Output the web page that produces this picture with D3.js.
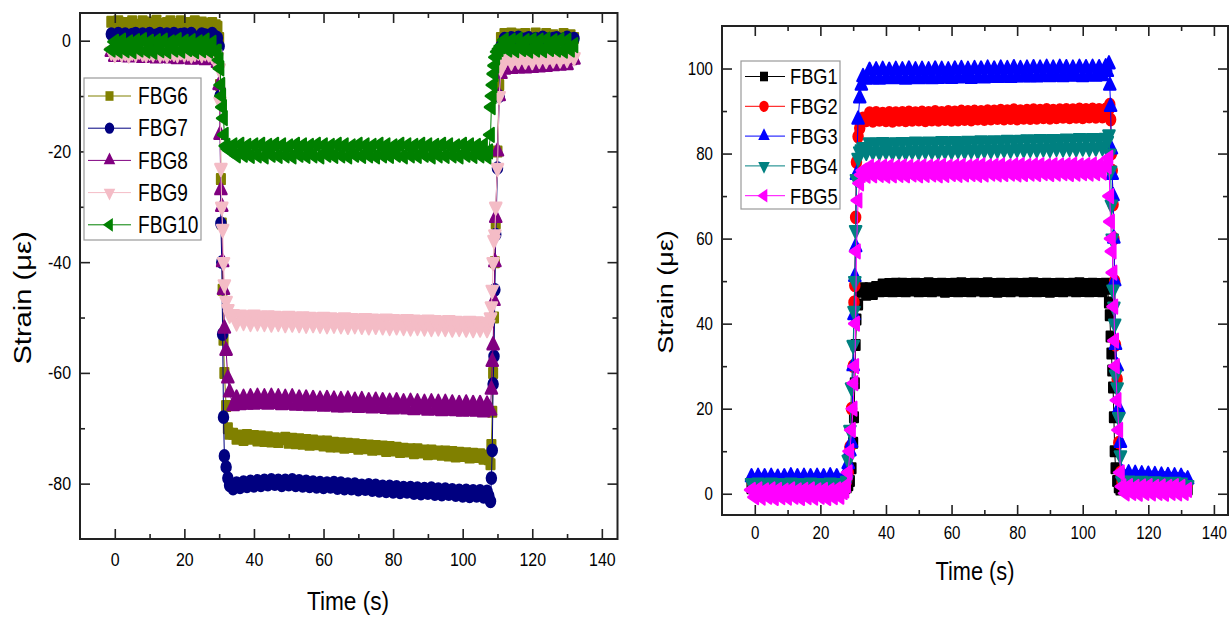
<!DOCTYPE html>
<html lang="en">
<head>
<meta charset="utf-8">
<title>FBG strain</title>
<script src="https://cdn.jsdelivr.net/npm/d3@7/dist/d3.min.js"></script>
<style>
  body { margin: 0; background: #fff; }
  svg text { font-family: "Liberation Sans", Arial, sans-serif; fill: #000; }
</style>
</head>
<body>
<svg id="chart" width="1229" height="619"></svg>
<script>

// ---- left panel: FBG6..FBG10 (compression) ----
const timeL = [
  -1,0,1,2,3,4,5,6,7,8,9,10,11,12,13,14,15,16,17,18,19,20,21,22,23,24,25,26,27,28,29,
  29.5,30,30.25,30.5,30.75,31,31.25,31.5,32,32.5,33,
  34,35,36,37,38,39,40,41,42,43,44,45,46,47,48,49,50,51,52,53,54,55,56,57,58,59,60,61,62,63,
  64,65,66,67,68,69,70,71,72,73,74,75,76,77,78,79,80,81,82,83,84,85,86,87,88,89,90,91,92,93,
  94,95,96,97,98,99,100,101,102,103,104,105,106,107,
  107.5,108,108.25,108.5,108.75,109,109.25,109.5,110,110.5,111,
  112,113,114,115,116,117,118,119,120,121,122,123,124,125,126,127,128,129,130,131,132
];

const fbg6 = [
  3.4,2.6,3.5,2.8,3.2,2.5,3.5,2.9,2.6,3.5,2.8,3.3,2.5,3.6,3.0,2.6,3.2,3.5,2.7,3.0,3.5,2.5,3.2,2.8,3.5,2.6,3.3,3.0,2.6,3.2,2.8,
  2.5,0.5,-8,-25,-33,-45,-54,-60,-66,-70,-71,
  -71.0,-71.9,-71.3,-72.1,-71.2,-71.9,-71.4,-72.2,-71.5,-72.3,
  -71.6,-72.4,-71.8,-72.5,-72.0,-71.7,-72.6,-71.9,-72.7,-72.0,
  -72.8,-72.1,-73.0,-72.2,-72.9,-72.4,-73.1,-72.4,-73.3,-72.6,
  -73.3,-72.7,-73.5,-72.8,-73.4,-72.9,-73.7,-73.0,-73.6,-73.1,
  -73.9,-73.2,-73.8,-73.3,-74.1,-73.4,-74.0,-73.5,-74.3,-73.7,
  -74.2,-73.8,-74.5,-73.8,-74.4,-74.0,-74.7,-74.0,-74.6,-74.2,
  -74.8,-74.2,-74.9,-74.3,-75.1,-74.4,-75.0,-74.5,-75.3,-74.6,
  -75.2,-74.7,-75.5,-74.9,
  -75.6,-76.5,-73,-67,-60,-50,-40,-33,-20,-8,0.5,
  1.2,0.3,1.3,0.5,1.1,0.4,1.2,0.6,0.3,1.3,0.6,0.4,1.2,0.5,1.0,0.7,0.3,1.2,0.6,1.0,0.5
];

const fbg7 = [
  1.2,0.5,1.3,0.6,1.2,0.4,1.1,1.3,0.5,1.2,0.6,1.3,0.4,1.0,1.3,0.5,1.2,0.6,1.3,0.4,1.1,1.2,0.5,1.3,0.6,0.4,1.2,1.0,0.5,1.3,0.7,
  0.5,-1,-10,-33,-40,-53,-68,-75,-77,-79,-80.3,
  -80.9,-79.9,-80.7,-79.7,-80.5,-79.6,-80.4,-79.5,-80.3,-79.4,
  -80.2,-79.3,-80.1,-79.4,-80.3,-79.4,-80.2,-79.3,-80.3,-79.5,
  -80.4,-79.6,-80.5,-79.7,-80.6,-79.8,-80.7,-79.9,-80.6,-79.8,
  -80.8,-79.9,-80.9,-80.1,-80.9,-80.1,-81.1,-80.3,-81.0,-80.2,
  -81.2,-80.3,-81.3,-80.5,-81.4,-80.5,-81.5,-80.6,-81.6,-80.7,
  -81.5,-80.7,-81.7,-80.8,-81.8,-80.9,-81.7,-80.8,-81.9,-81.0,
  -82.0,-81.0,-81.9,-81.1,-82.1,-81.2,-82.2,-81.2,-82.3,-81.3,
  -82.2,-81.3,-82.4,-81.4,
  -82.2,-83.2,-79,-74,-62,-57,-45,-35,-23,-10,-1,
  0.4,0.1,0.5,0.2,0.6,0.0,0.3,0.5,0.1,0.4,0.2,0.6,0.3,0.0,0.4,0.5,0.2,0.3,0.6,0.1,0.4
];

const fbg8 = [
  -2.0,-2.9,-2.0,-2.8,-2.2,-3.0,-2.1,-2.9,-2.3,-3.1,-2.2,-3.0,-2.3,-3.2,-2.4,-3.1,-2.3,-3.2,-2.5,-3.3,
  -2.4,-3.2,-2.6,-3.4,-2.5,-3.3,-2.7,-3.5,-2.6,-3.4,-2.9,
  -4,-8,-17,-27,-30,-40,-45,-52,-56,-61,-63.5,
  -66.0,-64.6,-65.8,-64.5,-65.7,-64.4,-65.7,-64.3,-65.6,-64.4,
  -65.7,-64.3,-65.6,-64.4,-65.8,-64.5,-65.7,-64.4,-65.9,-64.6,
  -65.9,-64.6,-66.0,-64.7,-65.9,-64.8,-66.1,-64.7,-66.0,-64.8,
  -66.2,-64.9,-66.2,-64.8,-66.1,-65.0,-66.3,-64.9,-66.2,-65.1,
  -66.4,-65.0,-66.3,-65.1,-66.5,-65.2,-66.6,-65.1,-66.4,-65.3,
  -66.6,-65.2,-66.7,-65.3,-66.5,-65.4,-66.8,-65.3,-66.7,-65.4,
  -66.9,-65.4,-66.8,-65.5,-66.9,-65.6,-67.0,-65.5,-66.9,-65.6,
  -67.0,-65.6,-67.1,-65.7,
  -66.4,-66.8,-63,-58,-55,-47,-40,-32,-20,-10,-6,
  -5.2,-4.3,-5.1,-4.2,-5.0,-4.1,-5.0,-4.0,-4.9,-4.1,-4.8,-3.9,-4.7,-3.8,-4.6,-3.7,-4.5,-3.6,-4.4,-3.5,-3.4
];

const fbg9 = [
  -2.0,-2.4,-1.9,-2.3,-2.1,-2.5,-2.0,-2.3,-1.8,-2.2,-2.4,-2.0,-2.3,-1.9,-2.4,-2.1,-2.5,-2.0,-2.2,-2.4,
  -1.9,-2.3,-2.1,-2.5,-2.2,-2.0,-2.4,-2.1,-2.3,-2.6,-2.5,
  -3,-5,-11,-23,-30,-34,-40,-44,-47,-48.5,-49.5,
  -49.4,-50.9,-49.5,-50.8,-49.6,-51.0,-49.5,-50.9,-49.7,-51.0,
  -49.6,-51.1,-49.7,-51.0,-49.8,-51.2,-49.7,-51.1,-49.9,-51.2,
  -49.8,-51.3,-49.9,-51.2,-50.0,-51.3,-49.9,-51.4,-50.0,-51.3,
  -50.1,-51.4,-50.0,-51.5,-50.1,-51.4,-50.2,-51.5,-50.1,-51.6,
  -50.2,-51.5,-50.3,-51.6,-50.2,-51.7,-50.3,-51.6,-50.4,-51.7,
  -50.3,-51.8,-50.4,-51.7,-50.5,-51.8,-50.4,-51.9,-50.5,-51.8,
  -50.6,-51.9,-50.5,-52.0,-50.6,-51.9,-50.7,-52.0,-50.6,-52.1,
  -50.7,-52.0,-50.8,-52.1,
  -51.3,-50,-48,-45,-40,-36,-35,-30,-23,-10,-5,
  -3.7,-2.8,-3.8,-2.9,-3.6,-2.7,-3.6,-2.8,-3.7,-2.6,-3.5,-2.6,-3.5,-2.7,-3.4,-2.5,-3.4,-2.6,-3.3,-2.4,-3.0
];

const fbg10 = [
  -1.6,-0.2,-1.8,0.0,-1.7,-0.3,-1.9,-0.1,-1.6,0.1,-1.8,-0.2,-2.0,-0.1,-1.7,0.0,-1.9,-0.3,-1.6,0.1,
  -1.8,-0.2,-1.5,-0.1,-1.9,-0.3,-1.7,0.0,-1.8,-0.4,-2.0,
  -2,-3.5,-5,-8,-10,-12,-14,-17,-19,-19.5,-19.8,
  -18.9,-20.7,-18.8,-20.6,-19.0,-20.8,-18.9,-20.7,-18.8,-20.9,
  -19.0,-20.6,-18.8,-20.8,-18.9,-20.7,-19.1,-20.9,-18.8,-20.6,
  -18.9,-20.8,-19.0,-20.7,-18.8,-20.9,-18.9,-20.6,-19.0,-20.8,
  -18.8,-20.7,-18.9,-20.9,-19.1,-20.6,-18.8,-20.8,-18.9,-20.7,
  -19.0,-20.9,-18.8,-20.7,-18.9,-20.8,-19.1,-20.6,-18.8,-20.9,
  -18.9,-20.7,-19.0,-20.8,-18.8,-20.6,-18.9,-20.9,-19.0,-20.7,
  -18.8,-20.8,-18.9,-20.7,-19.1,-20.9,-18.8,-20.6,-18.9,-20.8,
  -19.0,-20.7,-18.9,-20.9,
  -20,-17,-12,-10,-8,-6,-4.5,-3,-2,-1.5,-1,
  0.1,-1.6,0.0,-1.7,0.2,-1.5,-0.1,-1.8,0.1,-1.6,0.0,-1.7,0.2,-1.5,-0.1,-1.6,0.1,-1.8,0.0,-1.6,-0.8
];

// ---- right panel: FBG1..FBG5 (tension) ----
const timeR = [
  -1,0,1,2,3,4,5,6,7,8,9,10,11,12,13,14,15,16,17,18,19,20,21,22,23,24,25,26,27,
  27.5,28,28.5,29,29.5,30,30.25,30.5,30.75,31,31.5,32,32.5,33,
  34,35,36,37,38,39,40,41,42,43,44,45,46,47,48,49,50,51,52,53,54,55,56,57,58,59,60,61,62,63,
  64,65,66,67,68,69,70,71,72,73,74,75,76,77,78,79,80,81,82,83,84,85,86,87,88,89,90,91,92,93,
  94,95,96,97,98,99,100,101,102,103,104,105,106,107,
  107.5,108,108.25,108.5,108.75,109,109.25,109.5,109.75,110,110.5,111,111.5,
  112,113,114,115,116,117,118,119,120,121,122,123,124,125,126,127,128,129,130,131,132
];

const fbg1 = [
  1.3,1.0,1.5,1.1,1.4,0.9,1.3,1.2,1.6,1.0,1.4,1.1,1.5,0.9,1.3,1.2,1.0,1.4,1.1,1.5,1.2,0.9,1.3,1.1,1.4,1.0,1.3,1.2,1.5,
  1.3,1.5,2,3,6,12,18,26,35,41,44.5,47.5,48,48.3,
  46.8,48.3,47.0,48.6,47.6,49.2,47.7,49.3,47.6,49.4,
  47.7,49.4,47.6,49.3,47.8,49.4,47.6,49.3,47.7,49.5,
  47.6,49.3,47.8,49.4,47.5,49.3,47.7,49.4,47.6,49.5,
  47.7,49.3,47.6,49.4,47.8,49.3,47.6,49.5,47.7,49.3,
  47.5,49.4,47.7,49.3,47.6,49.4,47.8,49.3,47.6,49.4,
  47.7,49.5,47.6,49.3,47.7,49.4,47.5,49.3,47.7,49.4,
  47.6,49.3,47.8,49.4,47.6,49.5,47.7,49.3,47.6,49.4,
  47.7,49.3,47.6,49.4,
  48.2,45,42,37,33,29,25,18,10,6,3,1.5,1,
  1.2,0.9,1.4,1.0,1.3,0.8,1.2,1.1,0.9,1.3,1.0,1.2,0.8,1.1,1.3,0.9,1.2,1.0,1.1,0.8,1.0
];

const fbg2 = [
  3.1,1.9,3.2,1.8,3.0,2.0,3.2,1.9,3.1,1.8,3.0,2.0,3.2,1.9,3.1,1.8,3.0,2.1,3.2,1.9,3.0,1.8,3.1,2.0,3.2,1.9,3.0,2.1,2.8,
  2.6,3,5,11,20,30,45,49,65,78,84,86,87.5,88.3,
  87.8,89.5,87.7,89.6,87.9,89.4,87.8,89.6,87.7,89.5,
  87.9,89.6,87.8,89.7,87.9,89.5,88.0,89.7,87.8,89.6,
  88.0,89.8,87.9,89.6,88.1,89.8,87.9,89.7,88.0,89.9,
  88.1,89.8,88.0,89.9,88.2,89.8,88.1,90.0,88.2,89.9,
  88.3,90.1,88.2,90.0,88.3,90.2,88.2,90.0,88.4,90.1,
  88.3,90.2,88.4,90.1,88.5,90.3,88.4,90.1,88.5,90.2,
  88.6,90.3,88.5,90.2,88.6,90.4,88.5,90.3,88.7,90.4,
  88.6,90.3,88.7,90.4,
  89.6,90.5,91.5,88,80,76,68,60,50,35,27,12,5,
  2.7,2.4,2.8,2.5,2.9,2.3,2.6,2.7,2.4,2.8,2.3,2.6,2.5,2.7,2.2,2.5,2.6,2.3,2.5,2.2,2.4
];

const fbg3 = [
  3.9,2.7,4.0,2.8,3.9,2.6,4.0,2.8,3.8,2.7,3.9,2.8,4.1,2.7,3.9,2.8,4.0,2.6,3.9,2.7,4.0,2.8,3.9,2.7,4.1,2.8,3.9,2.7,3.6,
  3.5,5,7,10,12,30,42,51,58,75,88,93,96,98,
  97.4,99.5,97.5,99.6,97.4,99.7,97.6,99.5,97.5,99.7,
  97.6,99.6,97.4,99.8,97.6,99.6,97.5,99.7,97.7,99.6,
  97.5,99.8,97.6,99.7,97.8,99.6,97.6,99.8,97.7,99.9,
  97.8,99.7,97.6,99.9,97.8,99.8,97.7,100.0,97.9,99.8,
  97.8,100.0,97.9,99.9,97.8,100.1,98.0,99.9,97.9,100.0,
  98.0,100.1,97.9,100.0,98.1,100.2,98.0,100.0,98.1,100.2,
  98.0,100.1,98.2,100.0,98.1,100.2,98.0,100.1,98.2,100.2,
  98.1,100.1,98.2,100.3,
  99.2,101,96,91,81,75,70,60,50,35,30,20,12,
  4.8,3.6,4.8,3.5,4.7,3.4,4.6,3.4,4.5,3.3,4.4,3.2,4.3,3.2,4.2,3.0,4.1,3.0,4.0,2.9,3.4
];

const fbg4 = [
  2.5,1.2,2.6,1.1,2.4,1.3,2.6,1.2,2.5,1.1,2.4,1.3,2.6,1.2,2.5,1.1,2.4,1.2,2.6,1.3,2.5,1.1,2.4,1.2,2.6,1.3,2.5,1.2,2.0,
  2,3,8,15,25,35,43,50,62,74,79,80.5,81,81.5,
  80.4,82.6,80.5,82.5,80.4,82.7,80.6,82.5,80.4,82.6,
  80.5,82.7,80.4,82.6,80.6,82.8,80.5,82.6,80.7,82.8,
  80.6,82.7,80.5,82.9,80.7,82.8,80.6,82.9,80.8,82.7,
  80.7,83.0,80.8,82.9,80.7,83.1,80.9,82.9,80.8,83.1,
  80.9,83.0,81.0,83.2,80.9,83.1,81.1,83.2,81.0,83.3,
  81.1,83.2,81.0,83.4,81.2,83.3,81.1,83.4,81.3,83.3,
  81.2,83.5,81.3,83.4,81.2,83.6,81.4,83.5,81.3,83.6,
  81.4,83.5,81.5,83.7,
  83,84.5,80,76,68,60,48,44,40,28,25,18,9,
  3.0,1.8,3.1,1.7,2.9,1.6,3.0,1.8,2.8,1.7,2.9,1.5,2.8,1.6,2.7,1.5,2.8,1.6,2.6,1.5,2.0
];

const fbg5 = [
  0.9,-0.8,1.0,-0.9,0.8,-0.7,1.0,-1.0,0.9,-0.8,0.7,-0.9,1.0,-0.7,0.8,-1.0,0.9,-0.8,1.0,-0.9,0.8,-0.7,0.9,-1.0,0.8,-0.8,1.0,-0.7,0.4,
  0.8,2,5,10,15,20,26,30,40,57,69,73,75,76,
  74.8,76.9,74.9,76.8,75.0,76.9,74.8,77.0,74.9,76.8,
  75.0,77.0,74.9,76.9,75.1,76.8,74.9,77.0,75.0,76.9,
  75.1,77.0,74.9,77.1,75.0,76.9,75.2,77.0,75.0,77.1,
  75.1,76.9,75.2,77.1,75.0,77.2,75.1,77.0,75.3,77.1,
  75.1,77.2,75.2,77.0,75.3,77.2,75.1,77.3,75.2,77.1,
  75.3,77.2,75.2,77.3,75.4,77.1,75.2,77.3,75.3,77.2,
  75.4,77.3,75.2,77.4,75.3,77.2,75.4,77.3,75.3,77.4,
  75.4,77.3,75.5,77.4,
  77,79,70,64,60,57,52,44,36,30,22,15,5,
  1.7,0.1,1.8,0.2,1.6,0.0,1.7,0.2,1.8,0.1,1.6,0.2,1.7,0.0,1.6,0.2,1.8,0.1,1.6,0.2,0.9
];

const namesL = ["FBG6", "FBG7", "FBG8", "FBG9", "FBG10"];
const namesR = ["FBG1", "FBG2", "FBG3", "FBG4", "FBG5"];
const colorsL = ["#808000", "#000080", "#800080", "#f4bcc6", "#008000"];
const colorsR = ["#000000", "#ff0000", "#0000ff", "#008080", "#ff00ff"];
const markers = ["square", "circle", "up", "down", "left"];

const xMajor = [0, 20, 40, 60, 80, 100, 120, 140];
const xMinor = [10, 30, 50, 70, 90, 110, 130];
const yMajorL = [0, -20, -40, -60, -80];
const yMinorL = [-10, -30, -50, -70];
const yMajorR = [0, 20, 40, 60, 80, 100];
const yMinorR = [10, 30, 50, 70, 90];

const svg = d3.select("#chart");
const squeeze = 0.84; // the source picture is narrower than tall

function markerPath(type) {
  if (type === "square") return d3.symbol(d3.symbolSquare, 92)();
  if (type === "circle") return d3.symbol(d3.symbolCircle, 100)();
  return d3.symbol(d3.symbolTriangle, 82)();
}
function markerRot(type) {
  return type === "down" ? 180 : type === "left" ? -90 : 0;
}

function drawPanel(p) {
  const w = p.right - p.left, h = p.bottom - p.top;
  const g = svg.append("g").attr("transform", `translate(${p.left},${p.top})`);
  const x = d3.scaleLinear().domain(p.xDomain).range([0, w]);
  const y = d3.scaleLinear().domain(p.yDomain).range([h, 0]);

  // series: thin joining line, then the markers (edged so the dense run reads as a band)
  p.series.forEach((vals, i) => {
    const n = Math.min(p.time.length, vals.length);
    const pts = d3.range(n).map(k => [p.time[k], vals[k]]);
    const col = p.colors[i];
    g.append("path")
      .attr("d", d3.line().x(d => x(d[0])).y(d => y(d[1]))(pts))
      .attr("fill", "none")
      .attr("stroke", col)
      .attr("stroke-width", 1);
    g.append("g").selectAll("path")
      .data(pts)
      .join("path")
      .attr("d", markerPath(markers[i]))
      .attr("transform", d => `translate(${x(d[0])},${y(d[1])}) scale(${squeeze},1) rotate(${markerRot(markers[i])})`)
      .attr("fill", col)
      .attr("stroke", col)
      .attr("stroke-width", 2.4)
      .attr("stroke-linejoin", "round");
  });

  // axes, ticks pointing inwards on all four sides
  const tickStyle = sel => {
    sel.select(".domain").remove();
    sel.selectAll("line").attr("stroke", "#222").attr("stroke-width", 1.6);
    sel.attr("font-size", p.tickFont).attr("font-family", null);
  };
  const fmt = d => String(d);

  g.append("g").attr("transform", `translate(0,${h})`)
    .call(d3.axisBottom(x).tickValues(xMajor).tickSize(-10).tickPadding(p.xPad).tickFormat(fmt))
    .call(tickStyle)
    .selectAll("text").attr("transform", `scale(${squeeze},1)`);
  g.append("g").attr("transform", `translate(0,${h})`)
    .call(d3.axisBottom(x).tickValues(xMinor).tickSize(-5).tickFormat(""))
    .call(tickStyle);
  g.append("g")
    .call(d3.axisTop(x).tickValues(xMajor).tickSize(-10).tickFormat(""))
    .call(tickStyle);
  g.append("g")
    .call(d3.axisTop(x).tickValues(xMinor).tickSize(-5).tickFormat(""))
    .call(tickStyle);

  g.append("g")
    .call(d3.axisLeft(y).tickValues(p.yMajor).tickSize(-10).tickPadding(p.yPad / squeeze).tickFormat(fmt))
    .call(tickStyle)
    .selectAll("text").attr("transform", `scale(${squeeze},1)`);
  g.append("g")
    .call(d3.axisLeft(y).tickValues(p.yMinor).tickSize(-5).tickFormat(""))
    .call(tickStyle);
  g.append("g").attr("transform", `translate(${w},0)`)
    .call(d3.axisRight(y).tickValues(p.yMajor).tickSize(-10).tickFormat(""))
    .call(tickStyle);
  g.append("g").attr("transform", `translate(${w},0)`)
    .call(d3.axisRight(y).tickValues(p.yMinor).tickSize(-5).tickFormat(""))
    .call(tickStyle);

  g.append("rect")
    .attr("width", w).attr("height", h)
    .attr("fill", "none").attr("stroke", "#222").attr("stroke-width", 2);

  // axis titles
  svg.append("text")
    .attr("transform", `translate(${p.xTitle[0]},${p.xTitle[1]}) scale(0.87,1)`)
    .attr("text-anchor", "middle")
    .attr("font-size", p.titleFont)
    .text("Time (s)");
  svg.append("text")
    .attr("transform", `translate(${p.yTitle[0]},${p.yTitle[1]}) scale(${squeeze},${p.yStretch}) rotate(-90)`)
    .attr("text-anchor", "middle")
    .attr("font-size", p.yTitleFont)
    .text("Strain (\u03bc\u03b5)");

  // legend
  const L = p.legend;
  svg.append("rect")
    .attr("x", L.x0).attr("y", L.y0)
    .attr("width", L.x1 - L.x0).attr("height", L.y1 - L.y0)
    .attr("fill", "#fff").attr("stroke", "#9a9a9a").attr("stroke-width", 1.2);
  p.names.forEach((name, i) => {
    const ry = L.row0 + i * L.step;
    svg.append("line")
      .attr("x1", L.line[0]).attr("x2", L.line[1])
      .attr("y1", ry).attr("y2", ry)
      .attr("stroke", p.colors[i]).attr("stroke-width", 1);
    svg.append("path")
      .attr("d", markerPath(markers[i]))
      .attr("transform", `translate(${L.mark},${ry}) scale(${squeeze},1) rotate(${markerRot(markers[i])})`)
      .attr("fill", p.colors[i]);
    svg.append("text")
      .attr("transform", `translate(${L.text},${ry + L.font * 0.36}) scale(0.83,1)`)
      .attr("font-size", L.font)
      .text(name);
  });
}

drawPanel({
  left: 80, top: 13, right: 617.5, bottom: 539,
  xDomain: [-10, 144.5], yDomain: [-90, 5],
  time: timeL, series: [fbg6, fbg7, fbg8, fbg9, fbg10],
  names: namesL, colors: colorsL,
  yMajor: yMajorL, yMinor: yMinorL,
  tickFont: 19, xPad: 14, yPad: 9,
  titleFont: 26, yTitleFont: 28, yStretch: 1.04,
  xTitle: [348, 610], yTitle: [31, 298],
  legend: { x0: 84, y0: 78, x1: 201, y1: 240, row0: 96, step: 32.2,
            line: [88, 131], mark: 109.5, text: 138, font: 23 }
});

drawPanel({
  left: 722, top: 26, right: 1228, bottom: 515,
  xDomain: [-10, 144.3], yDomain: [-5, 110],
  time: timeR, series: [fbg1, fbg2, fbg3, fbg4, fbg5],
  names: namesR, colors: colorsR,
  yMajor: yMajorR, yMinor: yMinorR,
  tickFont: 18, xPad: 11, yPad: 9,
  titleFont: 25, yTitleFont: 27, yStretch: 1.0,
  xTitle: [975, 580], yTitle: [673, 292],
  legend: { x0: 741, y0: 61, x1: 840, y1: 209, row0: 76.5, step: 29.8,
            line: [745, 785], mark: 764, text: 790, font: 22 }
});

</script>
</body>
</html>
